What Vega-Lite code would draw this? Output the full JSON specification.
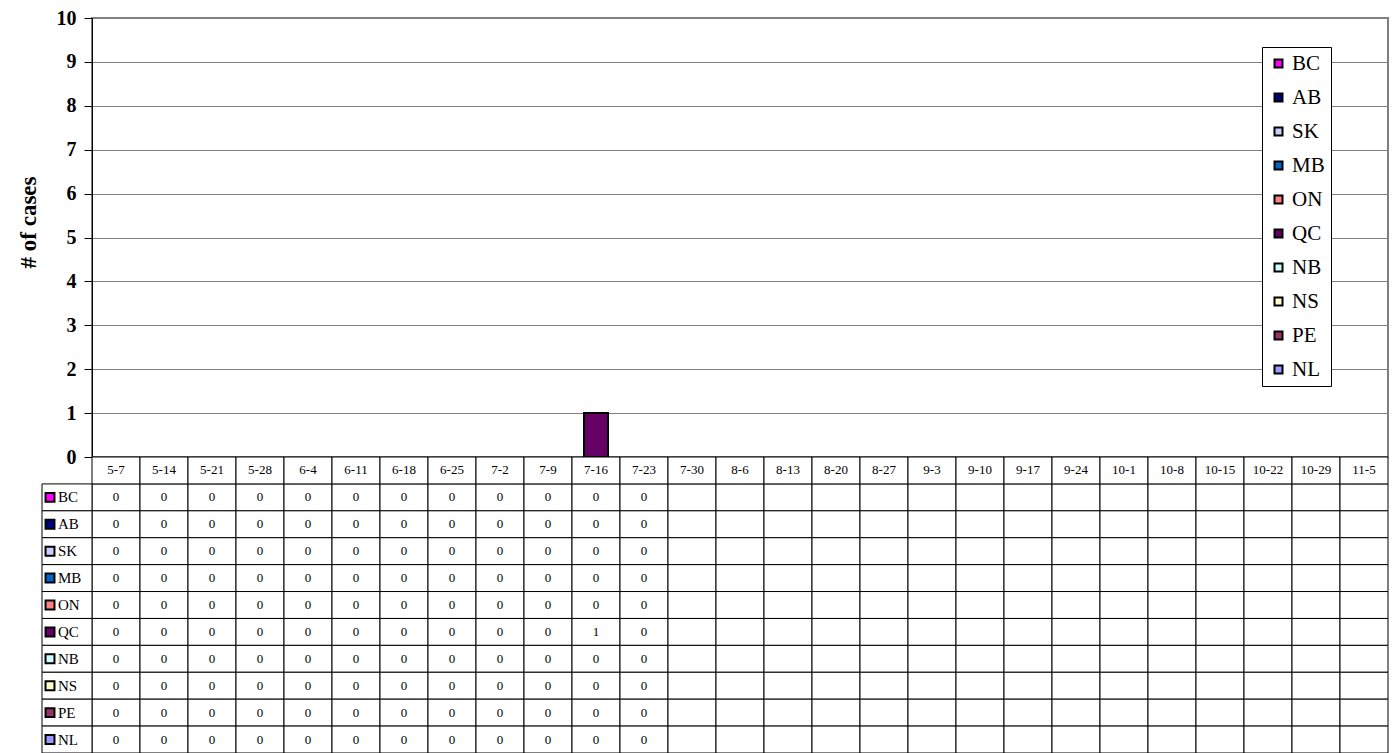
{
"$schema": "https://vega.github.io/schema/vega-lite/v6.json",
"autosize": {"type": "none"},
"padding": {"left": 92, "top": 18, "right": 7, "bottom": 296},
"width": 1296,
"height": 439,
"background": "white",
"config": {
  "font": "Liberation Serif",
  "view": {"stroke": "#808080", "strokeWidth": 2},
  "style": {"guide-label": {"font": "Liberation Serif", "fill": "black"}, "guide-title": {"font": "Liberation Serif", "fill": "black"}},
  "text": {"font": "Liberation Serif", "fill": "black"},
  "axis": {"domainColor": "black", "tickColor": "black", "labelColor": "black", "titleColor": "black", "labelFont": "Liberation Serif", "titleFont": "Liberation Serif"},
  "legend": {"labelFont": "Liberation Serif", "labelFontSize": 21, "labelColor": "black"}
},
"datasets": {
  "weeks": [
    {"week":"5-7"},{"week":"5-14"},{"week":"5-21"},{"week":"5-28"},{"week":"6-4"},{"week":"6-11"},{"week":"6-18"},{"week":"6-25"},{"week":"7-2"},{"week":"7-9"},{"week":"7-16"},{"week":"7-23"},{"week":"7-30"},{"week":"8-6"},{"week":"8-13"},{"week":"8-20"},{"week":"8-27"},{"week":"9-3"},{"week":"9-10"},{"week":"9-17"},{"week":"9-24"},{"week":"10-1"},{"week":"10-8"},{"week":"10-15"},{"week":"10-22"},{"week":"10-29"},{"week":"11-5"}
  ],
  "provs": [
    {"prov":"BC"},{"prov":"AB"},{"prov":"SK"},{"prov":"MB"},{"prov":"ON"},{"prov":"QC"},{"prov":"NB"},{"prov":"NS"},{"prov":"PE"},{"prov":"NL"}
  ],
  "cells": [
    {"week":"5-7","prov":"BC","cases":0},{"week":"5-7","prov":"AB","cases":0},{"week":"5-7","prov":"SK","cases":0},{"week":"5-7","prov":"MB","cases":0},{"week":"5-7","prov":"ON","cases":0},{"week":"5-7","prov":"QC","cases":0},{"week":"5-7","prov":"NB","cases":0},{"week":"5-7","prov":"NS","cases":0},{"week":"5-7","prov":"PE","cases":0},{"week":"5-7","prov":"NL","cases":0},
    {"week":"5-14","prov":"BC","cases":0},{"week":"5-14","prov":"AB","cases":0},{"week":"5-14","prov":"SK","cases":0},{"week":"5-14","prov":"MB","cases":0},{"week":"5-14","prov":"ON","cases":0},{"week":"5-14","prov":"QC","cases":0},{"week":"5-14","prov":"NB","cases":0},{"week":"5-14","prov":"NS","cases":0},{"week":"5-14","prov":"PE","cases":0},{"week":"5-14","prov":"NL","cases":0},
    {"week":"5-21","prov":"BC","cases":0},{"week":"5-21","prov":"AB","cases":0},{"week":"5-21","prov":"SK","cases":0},{"week":"5-21","prov":"MB","cases":0},{"week":"5-21","prov":"ON","cases":0},{"week":"5-21","prov":"QC","cases":0},{"week":"5-21","prov":"NB","cases":0},{"week":"5-21","prov":"NS","cases":0},{"week":"5-21","prov":"PE","cases":0},{"week":"5-21","prov":"NL","cases":0},
    {"week":"5-28","prov":"BC","cases":0},{"week":"5-28","prov":"AB","cases":0},{"week":"5-28","prov":"SK","cases":0},{"week":"5-28","prov":"MB","cases":0},{"week":"5-28","prov":"ON","cases":0},{"week":"5-28","prov":"QC","cases":0},{"week":"5-28","prov":"NB","cases":0},{"week":"5-28","prov":"NS","cases":0},{"week":"5-28","prov":"PE","cases":0},{"week":"5-28","prov":"NL","cases":0},
    {"week":"6-4","prov":"BC","cases":0},{"week":"6-4","prov":"AB","cases":0},{"week":"6-4","prov":"SK","cases":0},{"week":"6-4","prov":"MB","cases":0},{"week":"6-4","prov":"ON","cases":0},{"week":"6-4","prov":"QC","cases":0},{"week":"6-4","prov":"NB","cases":0},{"week":"6-4","prov":"NS","cases":0},{"week":"6-4","prov":"PE","cases":0},{"week":"6-4","prov":"NL","cases":0},
    {"week":"6-11","prov":"BC","cases":0},{"week":"6-11","prov":"AB","cases":0},{"week":"6-11","prov":"SK","cases":0},{"week":"6-11","prov":"MB","cases":0},{"week":"6-11","prov":"ON","cases":0},{"week":"6-11","prov":"QC","cases":0},{"week":"6-11","prov":"NB","cases":0},{"week":"6-11","prov":"NS","cases":0},{"week":"6-11","prov":"PE","cases":0},{"week":"6-11","prov":"NL","cases":0},
    {"week":"6-18","prov":"BC","cases":0},{"week":"6-18","prov":"AB","cases":0},{"week":"6-18","prov":"SK","cases":0},{"week":"6-18","prov":"MB","cases":0},{"week":"6-18","prov":"ON","cases":0},{"week":"6-18","prov":"QC","cases":0},{"week":"6-18","prov":"NB","cases":0},{"week":"6-18","prov":"NS","cases":0},{"week":"6-18","prov":"PE","cases":0},{"week":"6-18","prov":"NL","cases":0},
    {"week":"6-25","prov":"BC","cases":0},{"week":"6-25","prov":"AB","cases":0},{"week":"6-25","prov":"SK","cases":0},{"week":"6-25","prov":"MB","cases":0},{"week":"6-25","prov":"ON","cases":0},{"week":"6-25","prov":"QC","cases":0},{"week":"6-25","prov":"NB","cases":0},{"week":"6-25","prov":"NS","cases":0},{"week":"6-25","prov":"PE","cases":0},{"week":"6-25","prov":"NL","cases":0},
    {"week":"7-2","prov":"BC","cases":0},{"week":"7-2","prov":"AB","cases":0},{"week":"7-2","prov":"SK","cases":0},{"week":"7-2","prov":"MB","cases":0},{"week":"7-2","prov":"ON","cases":0},{"week":"7-2","prov":"QC","cases":0},{"week":"7-2","prov":"NB","cases":0},{"week":"7-2","prov":"NS","cases":0},{"week":"7-2","prov":"PE","cases":0},{"week":"7-2","prov":"NL","cases":0},
    {"week":"7-9","prov":"BC","cases":0},{"week":"7-9","prov":"AB","cases":0},{"week":"7-9","prov":"SK","cases":0},{"week":"7-9","prov":"MB","cases":0},{"week":"7-9","prov":"ON","cases":0},{"week":"7-9","prov":"QC","cases":0},{"week":"7-9","prov":"NB","cases":0},{"week":"7-9","prov":"NS","cases":0},{"week":"7-9","prov":"PE","cases":0},{"week":"7-9","prov":"NL","cases":0},
    {"week":"7-16","prov":"BC","cases":0},{"week":"7-16","prov":"AB","cases":0},{"week":"7-16","prov":"SK","cases":0},{"week":"7-16","prov":"MB","cases":0},{"week":"7-16","prov":"ON","cases":0},{"week":"7-16","prov":"QC","cases":1},{"week":"7-16","prov":"NB","cases":0},{"week":"7-16","prov":"NS","cases":0},{"week":"7-16","prov":"PE","cases":0},{"week":"7-16","prov":"NL","cases":0},
    {"week":"7-23","prov":"BC","cases":0},{"week":"7-23","prov":"AB","cases":0},{"week":"7-23","prov":"SK","cases":0},{"week":"7-23","prov":"MB","cases":0},{"week":"7-23","prov":"ON","cases":0},{"week":"7-23","prov":"QC","cases":0},{"week":"7-23","prov":"NB","cases":0},{"week":"7-23","prov":"NS","cases":0},{"week":"7-23","prov":"PE","cases":0},{"week":"7-23","prov":"NL","cases":0},
    {"week":"7-30","prov":"BC"},{"week":"7-30","prov":"AB"},{"week":"7-30","prov":"SK"},{"week":"7-30","prov":"MB"},{"week":"7-30","prov":"ON"},{"week":"7-30","prov":"QC"},{"week":"7-30","prov":"NB"},{"week":"7-30","prov":"NS"},{"week":"7-30","prov":"PE"},{"week":"7-30","prov":"NL"},
    {"week":"8-6","prov":"BC"},{"week":"8-6","prov":"AB"},{"week":"8-6","prov":"SK"},{"week":"8-6","prov":"MB"},{"week":"8-6","prov":"ON"},{"week":"8-6","prov":"QC"},{"week":"8-6","prov":"NB"},{"week":"8-6","prov":"NS"},{"week":"8-6","prov":"PE"},{"week":"8-6","prov":"NL"},
    {"week":"8-13","prov":"BC"},{"week":"8-13","prov":"AB"},{"week":"8-13","prov":"SK"},{"week":"8-13","prov":"MB"},{"week":"8-13","prov":"ON"},{"week":"8-13","prov":"QC"},{"week":"8-13","prov":"NB"},{"week":"8-13","prov":"NS"},{"week":"8-13","prov":"PE"},{"week":"8-13","prov":"NL"},
    {"week":"8-20","prov":"BC"},{"week":"8-20","prov":"AB"},{"week":"8-20","prov":"SK"},{"week":"8-20","prov":"MB"},{"week":"8-20","prov":"ON"},{"week":"8-20","prov":"QC"},{"week":"8-20","prov":"NB"},{"week":"8-20","prov":"NS"},{"week":"8-20","prov":"PE"},{"week":"8-20","prov":"NL"},
    {"week":"8-27","prov":"BC"},{"week":"8-27","prov":"AB"},{"week":"8-27","prov":"SK"},{"week":"8-27","prov":"MB"},{"week":"8-27","prov":"ON"},{"week":"8-27","prov":"QC"},{"week":"8-27","prov":"NB"},{"week":"8-27","prov":"NS"},{"week":"8-27","prov":"PE"},{"week":"8-27","prov":"NL"},
    {"week":"9-3","prov":"BC"},{"week":"9-3","prov":"AB"},{"week":"9-3","prov":"SK"},{"week":"9-3","prov":"MB"},{"week":"9-3","prov":"ON"},{"week":"9-3","prov":"QC"},{"week":"9-3","prov":"NB"},{"week":"9-3","prov":"NS"},{"week":"9-3","prov":"PE"},{"week":"9-3","prov":"NL"},
    {"week":"9-10","prov":"BC"},{"week":"9-10","prov":"AB"},{"week":"9-10","prov":"SK"},{"week":"9-10","prov":"MB"},{"week":"9-10","prov":"ON"},{"week":"9-10","prov":"QC"},{"week":"9-10","prov":"NB"},{"week":"9-10","prov":"NS"},{"week":"9-10","prov":"PE"},{"week":"9-10","prov":"NL"},
    {"week":"9-17","prov":"BC"},{"week":"9-17","prov":"AB"},{"week":"9-17","prov":"SK"},{"week":"9-17","prov":"MB"},{"week":"9-17","prov":"ON"},{"week":"9-17","prov":"QC"},{"week":"9-17","prov":"NB"},{"week":"9-17","prov":"NS"},{"week":"9-17","prov":"PE"},{"week":"9-17","prov":"NL"},
    {"week":"9-24","prov":"BC"},{"week":"9-24","prov":"AB"},{"week":"9-24","prov":"SK"},{"week":"9-24","prov":"MB"},{"week":"9-24","prov":"ON"},{"week":"9-24","prov":"QC"},{"week":"9-24","prov":"NB"},{"week":"9-24","prov":"NS"},{"week":"9-24","prov":"PE"},{"week":"9-24","prov":"NL"},
    {"week":"10-1","prov":"BC"},{"week":"10-1","prov":"AB"},{"week":"10-1","prov":"SK"},{"week":"10-1","prov":"MB"},{"week":"10-1","prov":"ON"},{"week":"10-1","prov":"QC"},{"week":"10-1","prov":"NB"},{"week":"10-1","prov":"NS"},{"week":"10-1","prov":"PE"},{"week":"10-1","prov":"NL"},
    {"week":"10-8","prov":"BC"},{"week":"10-8","prov":"AB"},{"week":"10-8","prov":"SK"},{"week":"10-8","prov":"MB"},{"week":"10-8","prov":"ON"},{"week":"10-8","prov":"QC"},{"week":"10-8","prov":"NB"},{"week":"10-8","prov":"NS"},{"week":"10-8","prov":"PE"},{"week":"10-8","prov":"NL"},
    {"week":"10-15","prov":"BC"},{"week":"10-15","prov":"AB"},{"week":"10-15","prov":"SK"},{"week":"10-15","prov":"MB"},{"week":"10-15","prov":"ON"},{"week":"10-15","prov":"QC"},{"week":"10-15","prov":"NB"},{"week":"10-15","prov":"NS"},{"week":"10-15","prov":"PE"},{"week":"10-15","prov":"NL"},
    {"week":"10-22","prov":"BC"},{"week":"10-22","prov":"AB"},{"week":"10-22","prov":"SK"},{"week":"10-22","prov":"MB"},{"week":"10-22","prov":"ON"},{"week":"10-22","prov":"QC"},{"week":"10-22","prov":"NB"},{"week":"10-22","prov":"NS"},{"week":"10-22","prov":"PE"},{"week":"10-22","prov":"NL"},
    {"week":"10-29","prov":"BC"},{"week":"10-29","prov":"AB"},{"week":"10-29","prov":"SK"},{"week":"10-29","prov":"MB"},{"week":"10-29","prov":"ON"},{"week":"10-29","prov":"QC"},{"week":"10-29","prov":"NB"},{"week":"10-29","prov":"NS"},{"week":"10-29","prov":"PE"},{"week":"10-29","prov":"NL"},
    {"week":"11-5","prov":"BC"},{"week":"11-5","prov":"AB"},{"week":"11-5","prov":"SK"},{"week":"11-5","prov":"MB"},{"week":"11-5","prov":"ON"},{"week":"11-5","prov":"QC"},{"week":"11-5","prov":"NB"},{"week":"11-5","prov":"NS"},{"week":"11-5","prov":"PE"},{"week":"11-5","prov":"NL"}
  ]
},
"layer": [
  {
    "data": {"name": "cells"},
    "transform": [{"filter": "datum.cases > 0"}],
    "mark": {"type": "bar", "width": {"band": 0.5}, "stroke": "black", "strokeWidth": 2},
    "encoding": {
      "x": {"field": "week", "type": "nominal", "sort": null,
        "scale": {"type": "band", "domain": ["5-7","5-14","5-21","5-28","6-4","6-11","6-18","6-25","7-2","7-9","7-16","7-23","7-30","8-6","8-13","8-20","8-27","9-3","9-10","9-17","9-24","10-1","10-8","10-15","10-22","10-29","11-5"], "paddingInner": 0, "paddingOuter": 0},
        "axis": null},
      "y": {"field": "cases", "type": "quantitative", "stack": "zero",
        "scale": {"domain": [0, 10], "nice": false},
        "axis": {"title": "# of cases", "values": [0,1,2,3,4,5,6,7,8,9,10], "tickSize": 8, "labelPadding": 8, "labelFontSize": 20, "labelFontWeight": "bold", "titleFontSize": 23, "titleFontWeight": "bold", "titlePadding": 16, "titleY": 204, "grid": true, "gridColor": "#808080", "gridWidth": 1, "gridOpacity": 1, "domainWidth": 1}},
      "color": {"field": "prov", "type": "nominal",
        "scale": {"domain": ["BC","AB","SK","MB","ON","QC","NB","NS","PE","NL"], "range": ["#FF00FF","#000080","#CCCCFF","#0066CC","#FF8080","#660066","#CCFFFF","#FFFFCC","#993366","#9999FF"]},
        "legend": {"title": null, "orient": "none", "legendX": 1170, "legendY": 29, "symbolType": "square", "symbolSize": 64, "symbolStrokeWidth": 2, "symbolStrokeColor": "black", "symbolOpacity": 1, "labelFontSize": 21, "labelFont": "Liberation Serif", "labelColor": "black", "rowPadding": 12, "padding": 6, "labelOffset": 3, "strokeColor": "black", "fillColor": "white"}}
    }
  },
  {
    "layer": [
      {
        "data": {"name": "cells"},
        "mark": {"type": "rect", "fill": "white", "stroke": "black", "strokeWidth": 1},
        "encoding": {
          "x": {"field": "week", "type": "nominal", "sort": null, "scale": {"type": "band", "domain": ["5-7","5-14","5-21","5-28","6-4","6-11","6-18","6-25","7-2","7-9","7-16","7-23","7-30","8-6","8-13","8-20","8-27","9-3","9-10","9-17","9-24","10-1","10-8","10-15","10-22","10-29","11-5"], "paddingInner": 0, "paddingOuter": 0}, "axis": null},
          "y": {"field": "prov", "type": "nominal", "sort": null, "scale": {"type": "band", "domain": ["hdr","BC","AB","SK","MB","ON","QC","NB","NS","PE","NL"], "range": [439, 735], "paddingInner": 0, "paddingOuter": 0}, "axis": null}
        }
      },
      {
        "data": {"name": "weeks"},
        "mark": {"type": "rect", "fill": "white", "stroke": "black", "strokeWidth": 1},
        "encoding": {
          "x": {"field": "week", "type": "nominal", "sort": null, "axis": null},
          "y": {"datum": "hdr", "type": "nominal", "axis": null}
        }
      },
      {
        "data": {"name": "weeks"},
        "mark": {"type": "text", "fontSize": 13, "fill": "black", "font": "Liberation Serif", "baseline": "middle", "align": "center"},
        "encoding": {
          "x": {"field": "week", "type": "nominal", "sort": null, "axis": null},
          "y": {"datum": "hdr", "type": "nominal", "axis": null},
          "text": {"field": "week", "type": "nominal"}
        }
      },
      {
        "data": {"name": "cells"},
        "transform": [{"filter": "isValid(datum.cases)"}],
        "mark": {"type": "text", "fontSize": 13, "fill": "black", "font": "Liberation Serif", "baseline": "middle", "align": "center"},
        "encoding": {
          "x": {"field": "week", "type": "nominal", "sort": null, "axis": null},
          "y": {"field": "prov", "type": "nominal", "sort": null, "axis": null},
          "text": {"field": "cases", "type": "quantitative"}
        }
      }
    ]
  },
  {
    "data": {"name": "provs"},
    "layer": [
      {
        "mark": {"type": "rect", "fill": "white", "stroke": "black", "strokeWidth": 1},
        "encoding": {
          "x": {"datum": "lbl", "type": "nominal", "scale": {"type": "band", "domain": ["lbl"], "range": [-50, 0], "paddingInner": 0, "paddingOuter": 0}, "axis": null},
          "y": {"field": "prov", "type": "nominal", "sort": null, "scale": {"type": "band", "domain": ["hdr","BC","AB","SK","MB","ON","QC","NB","NS","PE","NL"], "range": [439, 735], "paddingInner": 0, "paddingOuter": 0}, "axis": null}
        }
      },
      {
        "mark": {"type": "point", "shape": "square", "size": 80, "filled": true, "stroke": "black", "strokeWidth": 2, "opacity": 1, "xOffset": -17},
        "encoding": {
          "x": {"datum": "lbl", "type": "nominal", "axis": null},
          "y": {"field": "prov", "type": "nominal", "sort": null, "axis": null},
          "color": {"field": "prov", "type": "nominal", "scale": {"domain": ["BC","AB","SK","MB","ON","QC","NB","NS","PE","NL"], "range": ["#FF00FF","#000080","#CCCCFF","#0066CC","#FF8080","#660066","#CCFFFF","#FFFFCC","#993366","#9999FF"]}, "legend": null}
        }
      },
      {
        "mark": {"type": "text", "fontSize": 15, "fill": "black", "font": "Liberation Serif", "align": "left", "baseline": "middle", "dx": -9},
        "encoding": {
          "x": {"datum": "lbl", "type": "nominal", "axis": null},
          "y": {"field": "prov", "type": "nominal", "sort": null, "axis": null},
          "text": {"field": "prov", "type": "nominal"}
        }
      }
    ]
  }
],
"resolve": {"scale": {"x": "independent", "y": "independent", "color": "independent"}, "legend": {"color": "independent"}}
}
